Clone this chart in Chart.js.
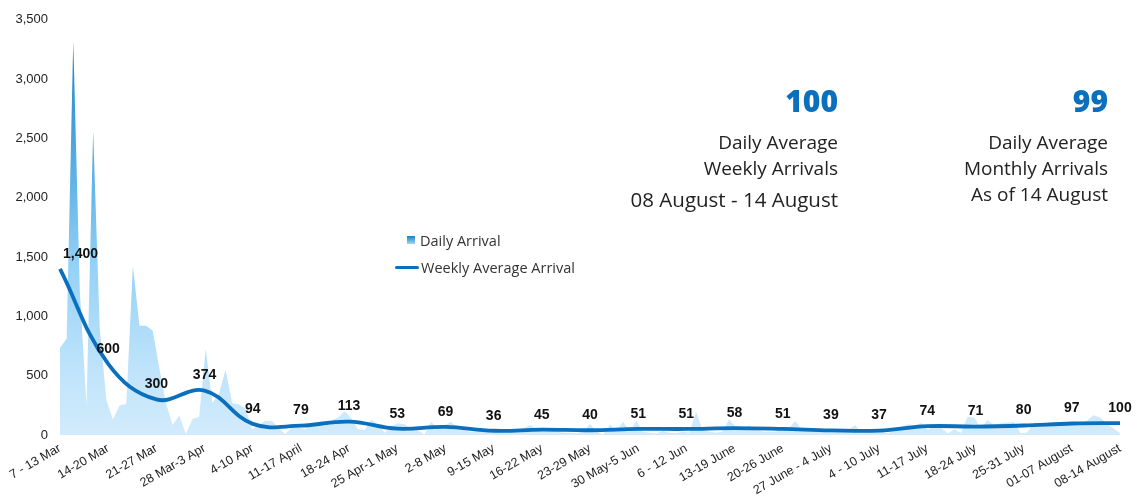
<!DOCTYPE html>
<html>
<head>
<meta charset="utf-8">
<script src="https://cdn.jsdelivr.net/npm/chart.js@4/dist/chart.umd.min.js"></script>
<style>
  html, body { margin: 0; padding: 0; background: #fff; }
  #wrap { position: relative; width: 1144px; height: 497px; }
  canvas { position: absolute; left: 0; top: 0; }
  .ann { position: absolute; font-family: "Open Sans", Lato, sans-serif; color: #222; text-align: right; white-space: nowrap; }
  .big { font-weight: 800; color: #0a70bd; font-size: 30px; }
  .txt { font-size: 19px; }
  .leg { position: absolute; font-family: "Open Sans", sans-serif; font-size: 14.5px; color: #333; white-space: nowrap; }
</style>
</head>
<body>
<div id="wrap">
  <canvas id="c" width="1144" height="497"></canvas>
  <div class="ann big" style="right:306px; top:80px;">100</div>
  <div class="ann txt" style="right:306px; top:129px;">Daily Average</div>
  <div class="ann txt" style="right:306px; top:155px;">Weekly Arrivals</div>
  <div class="ann txt" style="right:306px; top:185px; font-size:20.5px;">08 August - 14 August</div>
  <div class="ann big" style="right:36px; top:80px;">99</div>
  <div class="ann txt" style="right:36px; top:129px;">Daily Average</div>
  <div class="ann txt" style="right:36px; top:155px;">Monthly Arrivals</div>
  <div class="ann txt" style="right:36px; top:181px;">As of 14 August</div>
  <div style="position:absolute; left:407px; top:236px; width:8px; height:8px; background:linear-gradient(#1a7fc6,#9fd6f8);"></div>
  <div class="leg" style="left:420px; top:231px;">Daily Arrival</div>
  <div style="position:absolute; left:395px; top:266px; width:24px; height:3px; background:#0a6fbd; border-radius:2px;"></div>
  <div class="leg" style="left:421px; top:258px;">Weekly Average Arrival</div>
</div>
<script>
const weekLabels = ["7 - 13 Mar","14-20 Mar","21-27 Mar","28 Mar-3 Apr","4-10 Apr","11-17 April","18-24 Apr","25 Apr-1 May","2-8 May","9-15 May","16-22 May","23-29 May","30 May-5 Jun","6 - 12 Jun","13-19 June","20-26 June","27 June - 4 July","4 - 10 July","11-17 July","18-24 July","25-31 July","01-07 August","08-14 August"];
const weeklyAverage = [1400,600,300,374,94,79,113,53,69,36,45,40,51,51,58,51,39,37,74,71,80,97,100];
const weeklyLabelText = ["1,400","600","300","374","94","79","113","53","69","36","45","40","51","51","58","51","39","37","74","71","80","97","100"];
const dailyArrival = [
  734,812,3324,1200,251,2560,900,
  293,130,251,260,1423,921,921,
  879,560,268,84,167,8,134,
  153,726,270,352,550,268,260,
  223,48,84,120,117,60,8,
  67,67,48,98,75,75,123,
  150,200,140,48,42,131,84,
  20,70,98,90,47,42,4,
  112,56,80,112,56,42,25,
  30,56,20,28,35,42,41,
  56,84,42,30,56,25,22,
  20,15,30,92,30,5,88,
  36,112,28,120,28,20,13,
  35,20,15,30,20,195,42,
  30,20,30,131,70,45,80,
  47,30,30,30,44,56,120,
  42,40,42,40,38,35,36,
  40,84,20,42,30,28,15,
  40,70,90,80,103,45,90,
  60,14,47,20,153,148,55,
  126,84,100,105,109,14,22,
  103,100,95,100,90,95,96,
  100,120,167,148,95,56,14
];
const dayLabels = dailyArrival.map((_, i) => "d" + i);
const yTicks = [0,500,1000,1500,2000,2500,3000,3500];

function areaGradient(context) {
  const chart = context.chart;
  const { ctx, chartArea } = chart;
  if (!chartArea) return '#cfeafc';
  const g = ctx.createLinearGradient(0, chartArea.bottom, 0, chartArea.top);
  g.addColorStop(0, '#d2ebfc');
  g.addColorStop(0.15, '#c0e4fb');
  g.addColorStop(0.4, '#96d2f7');
  g.addColorStop(0.57, '#6ab9ea');
  g.addColorStop(0.86, '#2a90d0');
  g.addColorStop(0.96, '#1581c6');
  return g;
}

const labelPlugin = {
  id: 'weekLabels',
  afterDatasetsDraw(chart) {
    const meta = chart.getDatasetMeta(1);
    const ctx = chart.ctx;
    const area = chart.chartArea;
    ctx.save();
    ctx.font = 'bold 14px "Liberation Sans", Arial, sans-serif';
    ctx.fillStyle = '#111';
    ctx.textAlign = 'center';
    ctx.textBaseline = 'bottom';
    meta.data.forEach((pt, i) => {
      const w = ctx.measureText(weeklyLabelText[i]).width;
      const x = Math.max(pt.x, area.left + w / 2 + 3);
      ctx.fillText(weeklyLabelText[i], x, pt.y - 8);
    });
    ctx.restore();
  }
};

new Chart(document.getElementById('c'), {
  type: 'line',
  data: {
    labels: weekLabels,
    datasets: [
      {
        label: 'Daily Arrival',
        data: dailyArrival,
        xAxisID: 'x2',
        fill: 'origin',
        backgroundColor: areaGradient,
        borderWidth: 0,
        pointRadius: 0,
        tension: 0,
        order: 2
      },
      {
        label: 'Weekly Average Arrival',
        data: weeklyAverage,
        xAxisID: 'x',
        borderColor: '#0a6fbd',
        borderWidth: 3.8,
        pointRadius: 0,
        tension: 0.4,
        fill: false,
        order: 1
      }
    ]
  },
  options: {
    responsive: false,
    animation: false,
    devicePixelRatio: 1,
    layout: { padding: { top: 17, right: 24, left: 0, bottom: 0 } },
    plugins: { legend: { display: false }, tooltip: { enabled: false } },
    scales: {
      x: {
        type: 'category',
        offset: false,
        grid: { display: false, drawTicks: false },
        border: { display: false },
        ticks: {
          autoSkip: false,
          maxRotation: 30,
          minRotation: 30,
          padding: 6,
          color: '#222',
          font: { family: '"Liberation Sans", Arial, sans-serif', size: 12.5 }
        },
        afterFit(scale) { scale.height = 62; }
      },
      x2: {
        type: 'category',
        labels: dayLabels,
        offset: false,
        display: false
      },
      y: {
        min: 0,
        max: 3500,
        afterBuildTicks(scale) { scale.ticks = yTicks.map(v => ({ value: v })); },
        grid: { display: false, drawTicks: false },
        border: { display: false },
        ticks: {
          padding: 12,
          color: '#222',
          font: { family: '"Liberation Sans", Arial, sans-serif', size: 13 },
          callback: v => v.toLocaleString('en-US')
        },
        afterFit(scale) { scale.width = 60; }
      }
    }
  },
  plugins: [labelPlugin]
});
</script>
</body>
</html>
